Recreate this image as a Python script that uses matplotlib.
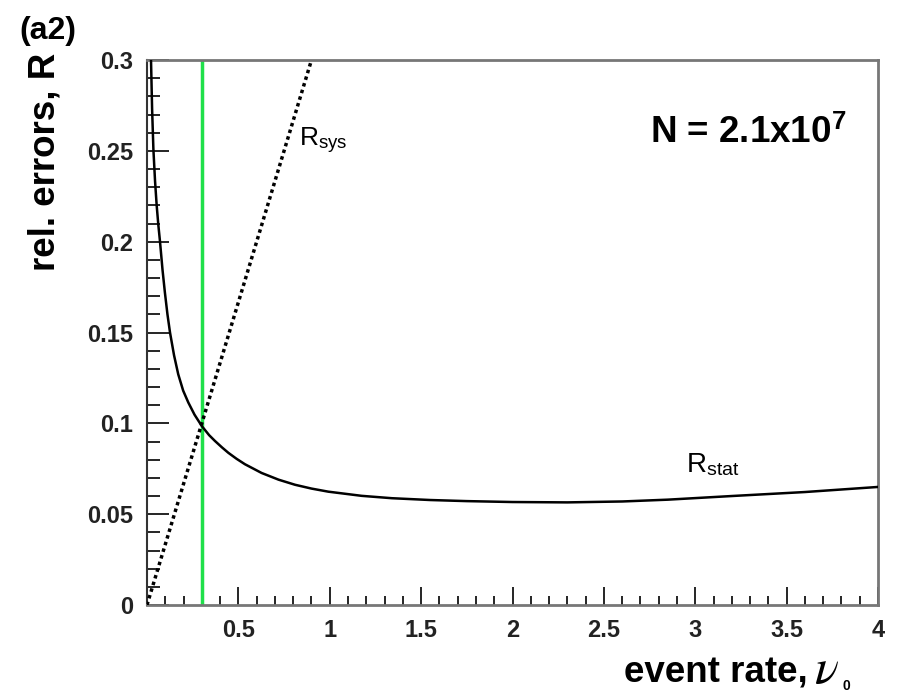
import matplotlib
matplotlib.use("Agg")
import matplotlib.pyplot as plt
from matplotlib.ticker import MultipleLocator, FixedLocator, FixedFormatter

plt.rcParams["font.family"] = ["Liberation Sans", "DejaVu Sans"]
plt.rcParams["mathtext.fontset"] = "custom"
plt.rcParams["mathtext.rm"] = "Liberation Sans"
plt.rcParams["mathtext.bf"] = "Liberation Sans:bold"
plt.rcParams["mathtext.it"] = "STIXGeneral:italic"

# statistical error curve
nu_stat = [0.022, 0.028, 0.035, 0.044, 0.053, 0.062, 0.071, 0.085, 0.098, 0.112,
           0.126, 0.148, 0.171, 0.198, 0.226, 0.26, 0.30, 0.34, 0.372, 0.41,
           0.445, 0.49, 0.536, 0.627, 0.72, 0.81, 0.90, 0.992, 1.175, 1.34,
           1.55, 1.75, 2.0, 2.3, 2.6, 2.85, 3.2, 3.6, 4.0]
r_stat = [0.300, 0.273, 0.251, 0.2335, 0.220, 0.2093, 0.2003, 0.1845, 0.172, 0.160,
          0.150, 0.1375, 0.127, 0.118, 0.1115, 0.1048, 0.0985, 0.0935, 0.0903, 0.0868,
          0.0838, 0.0805, 0.0775, 0.0727, 0.0690, 0.0662, 0.0641, 0.0624, 0.0601, 0.0588,
          0.0578, 0.0572, 0.0567, 0.0565, 0.0570, 0.0580, 0.0600, 0.0622, 0.0650]

# systematic error line
nu_sys = [0.0, 0.9]
r_sys = [0.0, 0.3]

nu_opt = 0.3

xticks = [0.5, 1, 1.5, 2, 2.5, 3, 3.5, 4]
xtick_labels = ["0.5", "1", "1.5", "2", "2.5", "3", "3.5", "4"]
yticks = [0, 0.05, 0.1, 0.15, 0.2, 0.25, 0.3]
ytick_labels = ["0", "0.05", "0.1", "0.15", "0.2", "0.25", "0.3"]

fig = plt.figure(figsize=(8.99, 6.98), dpi=100)
ax = fig.add_axes([0.1635, 0.1332, 0.8132, 0.7808])

ax.plot(nu_stat, r_stat, color="black", lw=1.8, solid_joinstyle="round", zorder=3)
ax.plot(nu_sys, r_sys, color="black", lw=2.5, linestyle=(0, (1, 1)), zorder=3)
ax.axvline(nu_opt, color="#1fe04a", lw=2.5, zorder=2)

ax.set_xlim(0, 4)
ax.set_ylim(0, 0.3)

ax.xaxis.set_major_locator(FixedLocator(xticks))
ax.xaxis.set_major_formatter(FixedFormatter(xtick_labels))
ax.xaxis.set_minor_locator(MultipleLocator(0.1))
ax.yaxis.set_major_locator(FixedLocator(yticks))
ax.yaxis.set_major_formatter(FixedFormatter(ytick_labels))
ax.yaxis.set_minor_locator(MultipleLocator(0.01))

ax.tick_params(axis="x", which="major", direction="in", length=13, width=1.2,
               pad=10, labelsize=17, top=False)
ax.tick_params(axis="x", which="minor", direction="in", length=6.5, width=1.2, top=False)
ax.tick_params(axis="y", which="major", direction="in", length=16, width=1.2,
               pad=10, labelsize=17, right=False)
ax.tick_params(axis="y", which="minor", direction="in", length=9, width=1.2, right=False)
for lab in ax.get_xticklabels() + ax.get_yticklabels():
    lab.set_fontweight("bold")
    lab.set_color("#222222")

for side in ["top", "right", "bottom"]:
    ax.spines[side].set_color("#777777")
    ax.spines[side].set_linewidth(2)
ax.spines["left"].set_color("#333333")
ax.spines["left"].set_linewidth(1.5)

# x label: text, then a big italic nu with a tiny subscript 0
fig.text(0.899, 0.0215, "event rate,", fontsize=26.5,
         fontweight="bold", ha="right", va="baseline")
fig.text(0.905, 0.0215, r"$\mathit{\nu}$", fontsize=36, ha="left", va="baseline")
fig.text(0.937, 0.012, "0", fontsize=10, fontweight="bold", ha="left", va="baseline")
fig.text(0.05, 0.925, "rel. errors, R", fontsize=26.5, fontweight="bold",
         rotation=90, ha="center", va="top")
fig.text(0.022, 0.934, "(a2)", fontsize=23, fontweight="bold", ha="left", va="bottom")

ax.text(0.723, 0.797, r"N = 2.1x10$^{\mathbf{7}}$", transform=fig.transFigure,
        fontsize=26.5, fontweight="bold", ha="left", va="baseline")
ax.text(0.333, 0.79, r"R$_{\mathrm{sys}}$", transform=fig.transFigure,
        fontsize=19, ha="left", va="baseline")
ax.text(0.763, 0.323, r"R$_{\mathrm{stat}}$", transform=fig.transFigure,
        fontsize=20, ha="left", va="baseline")

fig.savefig("out.png", dpi=100, facecolor="white")
